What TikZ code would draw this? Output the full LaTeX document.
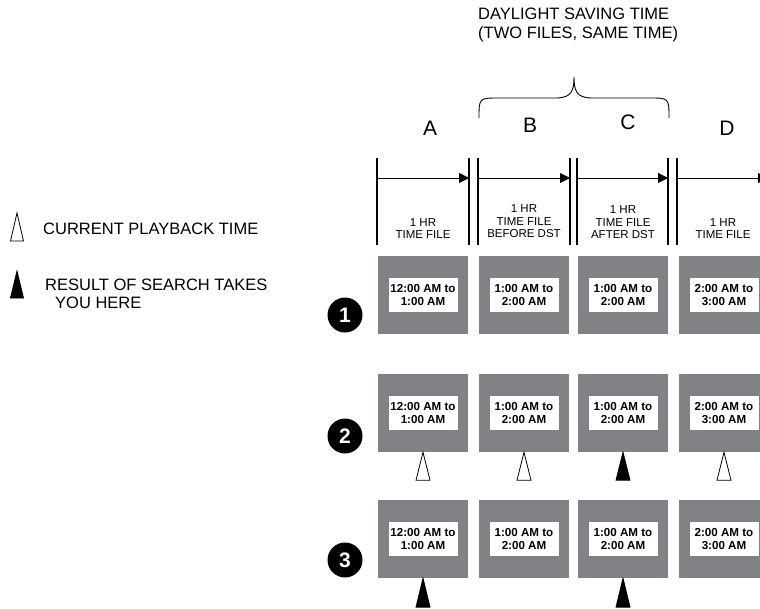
\documentclass[tikz,border=0pt]{standalone}
\usepackage{fontspec}
\setsansfont{Liberation Sans}
\usetikzlibrary{arrows.meta,positioning}
\definecolor{filegray}{RGB}{128,130,133}

\tikzset{
  legendtxt/.style={font=\sffamily\fontsize{16.5}{18.5}\selectfont, anchor=west, align=left, inner sep=0pt},
  colletter/.style={font=\sffamily\fontsize{21}{24}\selectfont, inner sep=0pt},
  hdr/.style={font=\sffamily\fontsize{11.5}{12.5}\selectfont, align=center, anchor=south, inner sep=0pt},
  filebox/.style={fill=filegray, minimum width=90pt, minimum height=78pt, inner sep=0pt},
  timebox/.style={fill=white, font=\sffamily\bfseries\fontsize{11.6}{13}\selectfont, align=center,
    minimum width=69pt, minimum height=34pt, inner sep=0pt},
  stepnum/.style={circle, fill=black, text=white, minimum size=35pt, inner sep=0pt,
    font=\sffamily\bfseries\fontsize{21}{24}\selectfont},
  openmark/.style={draw=black, fill=white, line width=.8pt},
  findmark/.style={draw=black, fill=black, line width=.8pt},
  barline/.style={line width=1.8pt},
}

\begin{document}
\begin{tikzpicture}[x=1pt,y=-1pt]
\useasboundingbox (0,0) rectangle (760,608);

% legend
\draw[openmark] (17,213) -- (23.5,241) -- (10.5,241) -- cycle;
\draw[findmark] (17,271) -- (23.5,298) -- (10.5,298) -- cycle;
\node[legendtxt] (cur) at (43,229) {CURRENT PLAYBACK TIME};
\node[legendtxt] (res) at (45,294) {RESULT OF SEARCH TAKES\\\hspace*{10pt}YOU HERE};

% title and brace
\node[legendtxt, anchor=north west] (dst) at (478,8) {DAYLIGHT SAVING TIME\\(TWO FILES, SAME TIME)};
\draw[line width=.9pt] (479,118) .. controls (479,98) .. (499,98) -- (556,98)
  .. controls (572,98) and (574,90) .. (574,77)
  .. controls (574,90) and (576,98) .. (592,98) -- (649,98)
  .. controls (669,98) .. (669,118);

% column letters
\foreach \c/\x/\y in {A/430/128,B/530/125,C/628/122,D/727/128}
  \node[colletter] (l\c) at (\x,\y) {\c};

% timeline
\foreach \a/\b in {377/469,478/570,577/668,677/768}{
  \draw[barline] (\a,158) -- (\a,245);
  \draw[-{Triangle[length=10pt,width=10pt]}, line width=.8pt] (\a,178) -- (\b,178);
}
\foreach \x in {469,570,668}
  \draw[barline] (\x,158) -- (\x,245);

% column headers
\node[hdr] (hA) at (423,239) {1 HR\\TIME FILE};
\node[hdr] (hB) at (524,238) {1 HR\\TIME FILE\\BEFORE DST};
\node[hdr] (hC) at (623,239) {1 HR\\TIME FILE\\AFTER DST};
\node[hdr] (hD) at (723,239) {1 HR\\TIME FILE};

% file boxes
\foreach \r/\y in {1/295,2/413,3/539}{
  \foreach \c/\x/\s/\e in {A/423/12/1,B/524/1/2,C/623/1/2,D/724/2/3}{
    \node[filebox] (f\r\c) at (\x,\y) {};
    \node[timebox] (t\r\c) at (f\r\c) {\s:00 AM to\\\e:00 AM};
  }
}

% step numbers
\node[stepnum] (s1) at (345,315) {1};
\node[stepnum] (s2) at (345,436) {2};
\node[stepnum] (s3) at (345,560) {3};

% markers
\foreach \c in {A,B,D}
  \draw[openmark] (f2\c.south) -- ++(7,28) -- ++(-14,0) -- cycle;
\draw[findmark] (f2C.south) -- ++(7,28) -- ++(-14,0) -- cycle;
\foreach \c in {A,C}
  \draw[findmark] (f3\c.south) -- ++(7,29) -- ++(-14,0) -- cycle;
\end{tikzpicture}
\end{document}
